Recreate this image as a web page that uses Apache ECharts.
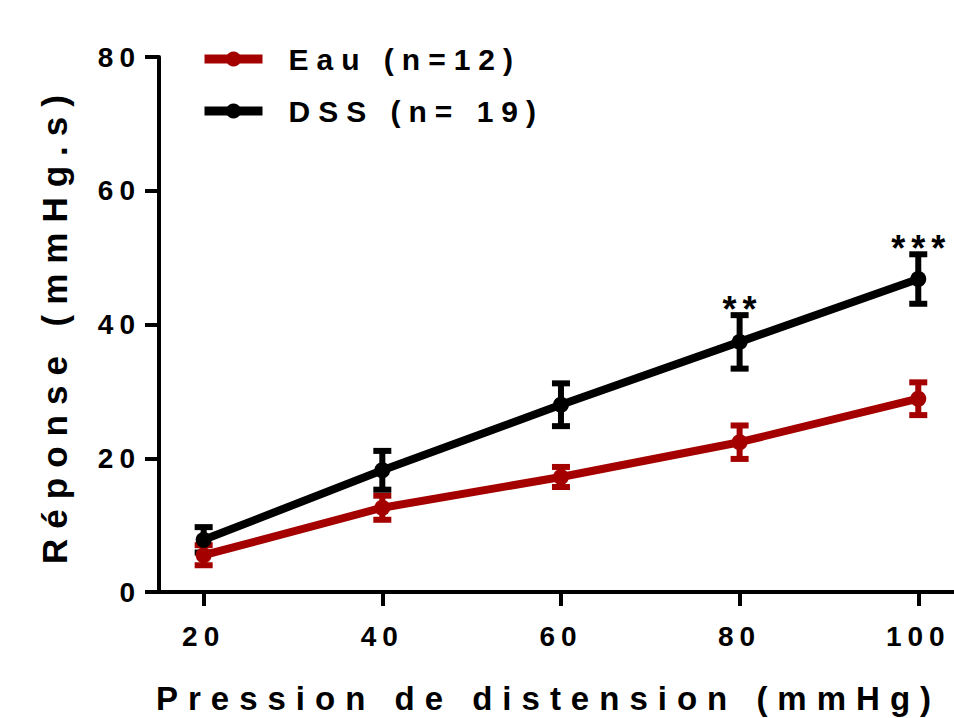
<!DOCTYPE html>
<html>
<head>
<meta charset="UTF-8">
<script src="https://cdn.jsdelivr.net/npm/echarts@6/dist/echarts.min.js"></script>
<style>
html, body { margin: 0; padding: 0; background: #fff; }
#chart { width: 954px; height: 718px; }
/* espacement des lettres, comme dans la figure d'origine */
#chart text[style*="28px"] { letter-spacing: 6px; }
#chart text[style*="30px"] { letter-spacing: 8px; }
#chart text[style*="33px"] { letter-spacing: 10px; }
#chart text[style*="35px"] { letter-spacing: 10px; }
#chart text[style*="36px"] { letter-spacing: 6px; }
</style>
</head>
<body>
<div id="chart"></div>
<script>
// pression de distension (mmHg)
var xVals = [20, 40, 60, 80, 100];
var xTicks = [20, 40, 60, 80, 100];
// réponse (mmHg.s), moyenne et erreur
var eauMean = [5.5, 12.6, 17.2, 22.4, 28.9];
var eauErr = [1.5, 1.8, 1.5, 2.5, 2.45];
var dssMean = [7.8, 18.2, 28.0, 37.4, 46.8];
var dssErr = [1.9, 2.9, 3.2, 4.0, 3.7];
var dssSig = ['', '', '', '**', '***'];

var RED = '#a40000';
var BLACK = '#000000';
var FONT = 'Liberation Sans, Arial, sans-serif';

function pairs(mean) {
	return xVals.map(function (x, i) { return [x, mean[i]]; });
}
function errData(mean, err) {
	return xVals.map(function (x, i) { return [x, mean[i], err[i], i]; });
}
function errRender(color, sig) {
	return function (params, api) {
		var x = api.value(0), m = api.value(1), e = api.value(2), i = api.value(3);
		var top = api.coord([x, m + e]);
		var bot = api.coord([x, m - e]);
		var w = 9;
		var st = { stroke: color, lineWidth: 6, fill: null };
		var children = [
			{ type: 'line', shape: { x1: top[0], y1: top[1], x2: bot[0], y2: bot[1] }, style: st },
			{ type: 'line', shape: { x1: top[0] - w, y1: top[1], x2: top[0] + w, y2: top[1] }, style: st },
			{ type: 'line', shape: { x1: bot[0] - w, y1: bot[1], x2: bot[0] + w, y2: bot[1] }, style: st }
		];
		if (sig && sig[i]) {
			children.push({
				type: 'text', x: top[0] + 3, y: top[1] + 12,
				style: { text: sig[i], fill: BLACK, font: 'bold 36px ' + FONT, align: 'center', verticalAlign: 'bottom' }
			});
		}
		return { type: 'group', children: children };
	};
}

var chart = echarts.init(document.getElementById('chart'), null, { renderer: 'svg' });
var option = {
	animation: false,
	backgroundColor: '#fff',
	grid: { left: 159, right: 0, top: 57, bottom: 126, containLabel: false, outerBoundsMode: 'none' },
	legend: {
		orient: 'vertical',
		left: 200,
		top: 44,
		padding: 0,
		itemWidth: 58,
		itemHeight: 19,
		itemGap: 22,
		data: ['Eau (n=12)', 'DSS (n= 19)'],
		lineStyle: { width: 9 },
		textStyle: { fontSize: 30, fontWeight: 'bold', color: BLACK, fontFamily: FONT, padding: [0, 0, 0, 21] }
	},
	xAxis: {
		type: 'value',
		min: 15,
		max: 104,
		name: 'Pression de distension (mmHg)',
		nameLocation: 'middle',
		nameGap: 90,
		nameTextStyle: { fontSize: 33, fontWeight: 'bold', color: BLACK, fontFamily: FONT, padding: [0, 16, 0, 0] },
		axisLine: { lineStyle: { color: BLACK, width: 4 } },
		axisTick: { show: true, length: 14, lineStyle: { color: BLACK, width: 4 }, customValues: xTicks },
		axisLabel: { fontSize: 28, fontWeight: 'bold', color: BLACK, fontFamily: FONT, margin: 30, customValues: xTicks },
		splitLine: { show: false }
	},
	yAxis: {
		type: 'value',
		min: 0,
		max: 80,
		interval: 20,
		name: 'Réponse (mmHg.s)',
		nameLocation: 'middle',
		nameGap: 87,
		nameTextStyle: { fontSize: 35, fontWeight: 'bold', color: BLACK, fontFamily: FONT },
		axisLine: { show: true, lineStyle: { color: BLACK, width: 4 } },
		axisTick: { show: true, length: 14, lineStyle: { color: BLACK, width: 4 } },
		axisLabel: { fontSize: 28, fontWeight: 'bold', color: BLACK, fontFamily: FONT, margin: 18 },
		splitLine: { show: false }
	},
	series: [
		{
			name: 'Eau err', type: 'custom', renderItem: errRender(RED),
			data: errData(eauMean, eauErr), encode: { x: 0, y: 1 }, silent: true
		},
		{
			name: 'Eau (n=12)', type: 'line', data: pairs(eauMean),
			symbol: 'circle', symbolSize: 16,
			itemStyle: { color: RED }, lineStyle: { color: RED, width: 8 }
		},
		{
			name: 'DSS err', type: 'custom', renderItem: errRender(BLACK, dssSig),
			data: errData(dssMean, dssErr), encode: { x: 0, y: 1 }, silent: true
		},
		{
			name: 'DSS (n= 19)', type: 'line', data: pairs(dssMean),
			symbol: 'circle', symbolSize: 16,
			itemStyle: { color: BLACK }, lineStyle: { color: BLACK, width: 8 }
		}
	]
};
chart.setOption(option);
</script>
</body>
</html>
